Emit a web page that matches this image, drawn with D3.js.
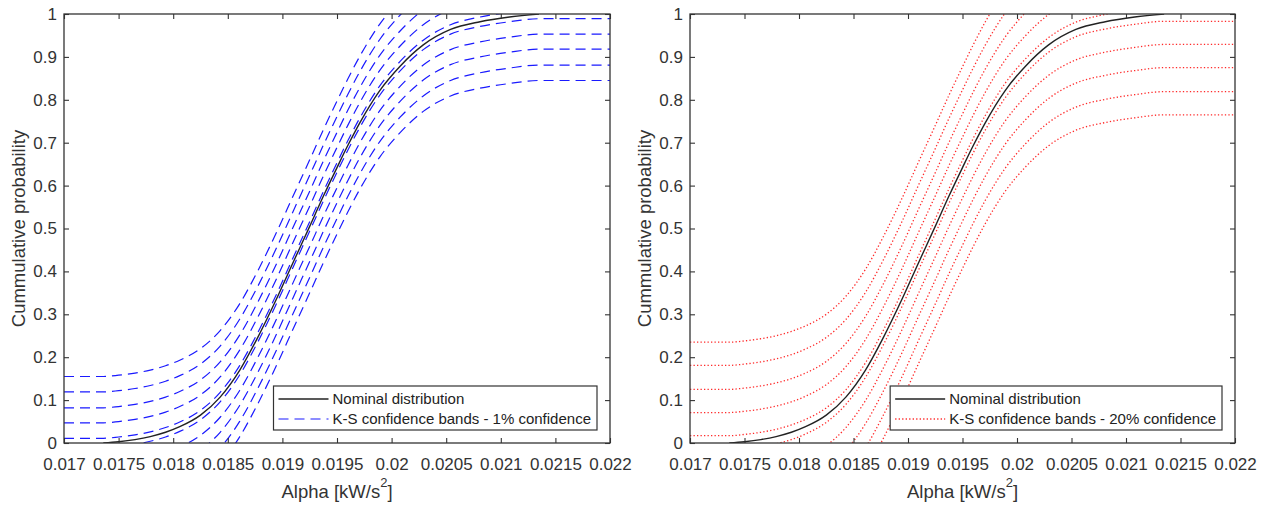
<!DOCTYPE html>
<html>
<head>
<meta charset="utf-8">
<script src="https://cdn.jsdelivr.net/npm/d3@7"></script>
<style>
  body { margin: 0; background: #fff; }
  svg { display: block; font-family: "Liberation Sans", Arial, Helvetica, sans-serif; }
</style>
</head>
<body>
<svg id="chart" width="1263" height="507"></svg>
<script>
// Nominal cumulative distribution of alpha [kW/s^2]
const nominalAlpha = [0.01736, 0.01750, 0.01765, 0.01779, 0.01793, 0.01806, 0.01825, 0.01843,
  0.01861, 0.01877, 0.01895, 0.01910, 0.01925, 0.01938, 0.01950, 0.01960, 0.01971, 0.01989,
  0.02008, 0.02029, 0.02054, 0.02081, 0.02108, 0.02135];
const nominalProb = [0.000, 0.003, 0.008, 0.015, 0.025, 0.038, 0.065, 0.107,
  0.170, 0.244, 0.338, 0.422, 0.505, 0.578, 0.642, 0.694, 0.747, 0.821,
  0.879, 0.928, 0.964, 0.982, 0.993, 1.000];

// Kolmogorov-Smirnov band half-widths for each panel
const bandOffsets1pct = [0.011, 0.047, 0.082, 0.119, 0.155];
const bandOffsets20pct = [0.017, 0.071, 0.125, 0.181, 0.235];

const xTickValues = [0.017, 0.0175, 0.018, 0.0185, 0.019, 0.0195, 0.02, 0.0205, 0.021, 0.0215, 0.022];
const xTickLabels = ["0.017", "0.0175", "0.018", "0.0185", "0.019", "0.0195", "0.02", "0.0205", "0.021", "0.0215", "0.022"];
const yTickValues = [0, 0.1, 0.2, 0.3, 0.4, 0.5, 0.6, 0.7, 0.8, 0.9, 1];
const yTickLabels = ["0", "0.1", "0.2", "0.3", "0.4", "0.5", "0.6", "0.7", "0.8", "0.9", "1"];

const legendNominal = "Nominal distribution";
const legendBands1 = "K-S confidence bands - 1% confidence";
const legendBands20 = "K-S confidence bands - 20% confidence";
const yTitle = "Cummulative probability";

const svg = d3.select("#chart");
const axisColor = "#333";
const plotTop = 14, plotBottom = 443;

const panels = [
  { id: "p1", left: 64, right: 610, offsets: bandOffsets1pct, color: "#1a1aff",
    dash: "10,6", width: 1.2, legend: legendBands1 },
  { id: "p2", left: 690, right: 1235, offsets: bandOffsets20pct, color: "#ff2a2a",
    dash: "1.3,2.2", width: 1.3, legend: legendBands20 }
];

const nominal = nominalAlpha.map((a, i) => ({ a: a, p: nominalProb[i] }));

panels.forEach(cfg => {
  const x = d3.scaleLinear().domain([0.017, 0.022]).range([cfg.left, cfg.right]);
  const y = d3.scaleLinear().domain([0, 1]).range([plotBottom, plotTop]);
  const g = svg.append("g");

  g.append("clipPath").attr("id", "clip-" + cfg.id)
    .append("rect")
    .attr("x", cfg.left).attr("y", plotTop)
    .attr("width", cfg.right - cfg.left).attr("height", plotBottom - plotTop);

  const line = d3.line().x(d => x(d.a)).y(d => y(d.p)).curve(d3.curveMonotoneX);
  const plot = g.append("g").attr("clip-path", "url(#clip-" + cfg.id + ")");

  // Upper and lower bands: nominal CDF shifted by +/- offset
  cfg.offsets.forEach(dv => {
    const upper = [{ a: 0.017, p: dv }]
      .concat(nominal.map(d => ({ a: d.a, p: d.p + dv })))
      .concat([{ a: 0.022, p: 1 + dv }]);
    const lower = [{ a: 0.017, p: -dv }]
      .concat(nominal.map(d => ({ a: d.a, p: d.p - dv })))
      .concat([{ a: 0.022, p: 1 - dv }]);
    [upper, lower].forEach(band => {
      plot.append("path").datum(band)
        .attr("d", line)
        .attr("fill", "none")
        .attr("stroke", cfg.color)
        .attr("stroke-width", cfg.width)
        .attr("stroke-dasharray", cfg.dash);
    });
  });

  plot.append("path").datum(nominal)
    .attr("d", line)
    .attr("fill", "none")
    .attr("stroke", "#222")
    .attr("stroke-width", 1.4);

  // Axes with inward ticks on all four sides
  const fmtX = (d, i) => xTickLabels[i];
  const fmtY = (d, i) => yTickLabels[i];
  const gx = g.append("g").attr("transform", `translate(0,${plotBottom})`)
    .call(d3.axisBottom(x).tickValues(xTickValues).tickFormat(fmtX)
      .tickSizeInner(-5).tickSizeOuter(0).tickPadding(15));
  const gy = g.append("g").attr("transform", `translate(${cfg.left},0)`)
    .call(d3.axisLeft(y).tickValues(yTickValues).tickFormat(fmtY)
      .tickSizeInner(-5).tickSizeOuter(0).tickPadding(7));
  const gt = g.append("g").attr("transform", `translate(0,${plotTop})`)
    .call(d3.axisTop(x).tickValues(xTickValues).tickFormat("")
      .tickSizeInner(-5).tickSizeOuter(0));
  const gr = g.append("g").attr("transform", `translate(${cfg.right},0)`)
    .call(d3.axisRight(y).tickValues(yTickValues).tickFormat("")
      .tickSizeInner(-5).tickSizeOuter(0));
  [gx, gy, gt, gr].forEach(a => {
    a.select(".domain").remove();
    a.selectAll(".tick line").attr("stroke", axisColor).attr("stroke-width", 1.1);
    a.selectAll(".tick text").attr("fill", axisColor)
      .style("font-size", "17px").style("font-family", "'Liberation Sans', Arial, sans-serif");
  });

  g.append("rect")
    .attr("x", cfg.left).attr("y", plotTop)
    .attr("width", cfg.right - cfg.left).attr("height", plotBottom - plotTop)
    .attr("fill", "none").attr("stroke", axisColor).attr("stroke-width", 1.3);

  // Axis titles
  const cx = (cfg.left + cfg.right) / 2;
  const xt = g.append("text")
    .attr("x", cx).attr("y", 498)
    .attr("text-anchor", "middle")
    .attr("fill", axisColor)
    .style("font-size", "18.5px");
  xt.append("tspan").text("Alpha [kW/s");
  xt.append("tspan").attr("dy", -11).style("font-size", "13px").text("2");
  xt.append("tspan").attr("dy", 11).text("]");

  g.append("text")
    .attr("transform", `translate(${cfg.left - 39},${(plotTop + plotBottom) / 2}) rotate(-90)`)
    .attr("text-anchor", "middle")
    .attr("fill", axisColor)
    .style("font-size", "18.5px")
    .text(yTitle);

  // Legend anchored to the lower-right corner of the axes
  const lg = g.append("g");
  const boxRight = cfg.right - 13;
  const row1 = 399, row2 = 419;
  const box = lg.append("rect").attr("fill", "#fff").attr("stroke", axisColor).attr("stroke-width", 1.2);
  const t1 = lg.append("text").attr("y", row1 + 5.3).attr("fill", "#222").style("font-size", "15px").text(legendNominal);
  const t2 = lg.append("text").attr("y", row2 + 5.3).attr("fill", "#222").style("font-size", "15px").text(cfg.legend);
  const textLen = Math.max(t1.node().getComputedTextLength(), t2.node().getComputedTextLength());
  const textStart = boxRight - 6 - textLen;
  t1.attr("x", textStart);
  t2.attr("x", textStart);
  const s0 = textStart - 54, s1 = textStart - 4;
  lg.append("line").attr("x1", s0).attr("x2", s1).attr("y1", row1).attr("y2", row1)
    .attr("stroke", "#222").attr("stroke-width", 1.4);
  lg.append("line").attr("x1", s0).attr("x2", s1).attr("y1", row2).attr("y2", row2)
    .attr("stroke", cfg.color).attr("stroke-width", cfg.width).attr("stroke-dasharray", cfg.dash);
  box.attr("x", s0 - 5).attr("y", 386).attr("width", boxRight - (s0 - 5)).attr("height", 44);
});
</script>
</body>
</html>
